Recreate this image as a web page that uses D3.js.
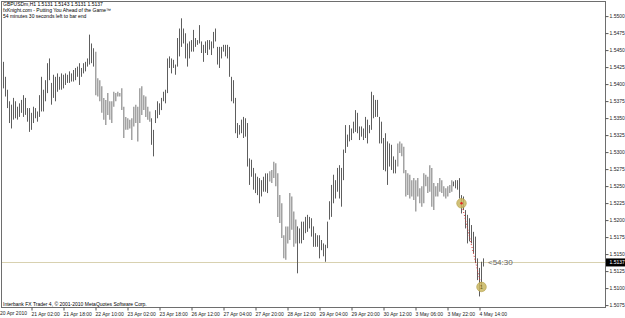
<!DOCTYPE html>
<html>
<head>
<meta charset="utf-8">
<script src="https://cdn.jsdelivr.net/npm/d3@7/dist/d3.min.js"></script>
<style>
  body { margin: 0; background: #fff; }
  svg { display: block; }
  text { font-family: "Liberation Sans", Arial, sans-serif; }
</style>
</head>
<body>
<div id="chart"></div>
<script>
var width = 625,
    height = 318;

// GBPUSD H1 bars, oldest first
var highs = [
  1.5432,1.5410,1.5391,1.5374,1.5369,1.5379,1.5374,1.5366,1.5371,1.5376,
  1.5383,1.5379,1.5364,1.5364,1.5357,1.5366,1.5364,1.5359,1.5383,1.5410,
  1.5391,1.5405,1.5430,1.5437,1.5401,1.5413,1.5410,1.5415,1.5410,1.5415,
  1.5413,1.5415,1.5413,1.5418,1.5415,1.5420,1.5423,1.5425,1.5430,1.5423,
  1.5430,1.5432,1.5437,1.5472,1.5459,1.5452,1.5447,1.5408,1.5405,1.5396,
  1.5379,1.5376,1.5386,1.5374,1.5374,1.5388,1.5386,1.5388,1.5386,1.5393,
  1.5366,1.5351,1.5349,1.5347,1.5349,1.5366,1.5369,1.5366,1.5393,1.5396,
  1.5383,1.5381,1.5366,1.5359,1.5349,1.5332,1.5361,1.5374,1.5371,1.5379,
  1.5388,1.5391,1.5437,1.5440,1.5437,1.5435,1.5428,1.5467,1.5481,1.5496,
  1.5481,1.5474,1.5459,1.5462,1.5464,1.5479,1.5467,1.5464,1.5486,1.5462,
  1.5457,1.5462,1.5464,1.5464,1.5462,1.5476,1.5481,1.5454,1.5454,1.5454,
  1.5457,1.5457,1.5457,1.5454,1.5410,1.5405,1.5379,1.5342,1.5339,1.5347,
  1.5351,
  1.5349,1.5342,1.5290,1.5288,1.5276,1.5268,1.5263,1.5261,1.5258,1.5263,
  1.5268,1.5268,1.5271,1.5273,1.5285,1.5283,1.5268,1.5236,1.5224,1.5177,
  1.5190,1.5190,1.5239,1.5234,1.5212,1.5200,1.5190,1.5187,1.5197,1.5197,
  1.5204,1.5207,1.5204,1.5202,1.5190,1.5180,1.5177,1.5177,1.5170,1.5165,
  1.5163,1.5197,1.5227,1.5251,1.5266,1.5258,1.5276,1.5280,1.5276,1.5303,
  1.5339,1.5325,1.5339,1.5334,1.5344,1.5361,1.5357,1.5337,1.5337,1.5334,
  1.5351,1.5347,1.5339,1.5388,1.5383,1.5376,1.5376,1.5351,1.5344,1.5320,
  1.5327,1.5315,1.5312,1.5310,1.5293,1.5288,1.5312,1.5315,1.5312,1.5307,
  1.5273,1.5268,1.5266,1.5258,1.5261,1.5258,1.5261,1.5246,1.5249,1.5268,
  1.5266,1.5263,1.5280,1.5276,1.5254,1.5249,1.5254,1.5261,1.5258,1.5249,
  1.5246,1.5249,1.5251,1.5258,1.5256,1.5258,1.5258,1.5261,1.5236,1.5234,
  1.5214,1.5207,1.5202,1.5192,1.5182,1.5175,1.5143,1.5129,1.5138,1.5143
];

var lows = [
  1.5393,1.5381,1.5364,1.5342,1.5334,1.5347,1.5349,1.5347,1.5351,1.5357,
  1.5351,1.5354,1.5344,1.5329,1.5332,1.5342,1.5349,1.5344,1.5351,1.5359,
  1.5359,1.5374,1.5386,1.5405,1.5369,1.5379,1.5374,1.5388,1.5391,1.5391,
  1.5393,1.5398,1.5401,1.5401,1.5403,1.5403,1.5405,1.5410,1.5398,1.5410,
  1.5415,1.5418,1.5425,1.5428,1.5430,1.5425,1.5383,1.5381,1.5374,1.5357,
  1.5347,1.5339,1.5354,1.5347,1.5342,1.5366,1.5374,1.5381,1.5381,1.5361,
  1.5320,1.5332,1.5332,1.5334,1.5317,1.5337,1.5342,1.5315,1.5342,1.5354,
  1.5361,1.5351,1.5347,1.5344,1.5310,1.5293,1.5342,1.5349,1.5354,1.5361,
  1.5374,1.5371,1.5386,1.5423,1.5415,1.5423,1.5413,1.5425,1.5440,1.5454,
  1.5459,1.5437,1.5425,1.5437,1.5447,1.5447,1.5454,1.5457,1.5459,1.5445,
  1.5432,1.5445,1.5442,1.5450,1.5442,1.5452,1.5462,1.5428,1.5423,1.5437,
  1.5447,1.5440,1.5437,1.5410,1.5374,1.5371,1.5327,1.5320,1.5325,1.5327,
  1.5320,
  1.5322,1.5278,1.5251,1.5263,1.5244,1.5239,1.5236,1.5224,1.5234,1.5241,
  1.5241,1.5239,1.5256,1.5254,1.5261,1.5249,1.5204,1.5195,1.5173,1.5143,
  1.5141,1.5165,1.5170,1.5185,1.5160,1.5165,1.5121,1.5165,1.5165,1.5170,
  1.5180,1.5182,1.5187,1.5175,1.5160,1.5160,1.5160,1.5143,1.5155,1.5146,
  1.5138,1.5158,1.5200,1.5204,1.5224,1.5231,1.5241,1.5231,1.5219,1.5258,
  1.5298,1.5307,1.5315,1.5317,1.5327,1.5329,1.5327,1.5317,1.5322,1.5317,
  1.5320,1.5312,1.5327,1.5332,1.5349,1.5351,1.5351,1.5312,1.5312,1.5273,
  1.5271,1.5251,1.5278,1.5273,1.5268,1.5268,1.5278,1.5298,1.5293,1.5268,
  1.5234,1.5236,1.5231,1.5234,1.5229,1.5212,1.5234,1.5224,1.5219,1.5224,
  1.5249,1.5239,1.5241,1.5219,1.5214,1.5234,1.5234,1.5241,1.5239,1.5234,
  1.5231,1.5234,1.5239,1.5241,1.5249,1.5246,1.5244,1.5231,1.5209,1.5214,
  1.5187,1.5165,1.5168,1.5165,1.5151,1.5136,1.5111,1.5087,1.5101,1.5131
];

// bar ranges painted silver by the indicator
var quietZones = [[46, 73], [133, 146], [197, 224]];

var priceTicks = [1.5500,1.5475,1.5450,1.5425,1.5400,1.5375,1.5350,1.5325,1.5300,
                  1.5275,1.5250,1.5225,1.5200,1.5175,1.5150,1.5125,1.5100,1.5075];

var timeBars = [14,30,46,62,78,94,110,126,142,158,174,190,206,222,238];
var timeLabels = ["21 Apr 02:00","21 Apr 18:00","22 Apr 10:00","23 Apr 02:00","23 Apr 18:00",
                  "26 Apr 12:00","27 Apr 04:00","27 Apr 20:00","28 Apr 12:00","29 Apr 04:00",
                  "29 Apr 20:00","30 Apr 12:00","3 May 06:00","3 May 22:00","4 May 14:00"];
var firstLabel = "20 Apr 2010";

var lastPrice = 1.5137;
var signals = [{bar: 229, price: 1.5224, label: ""}, {bar: 239, price: 1.5101, label: "1"}];

var headerLines = ["GBPUSDm,H1  1.5131 1.5143 1.5131 1.5137",
                   "fxKnight.com - Putting You Ahead of the Game\u2122",
                   "54 minutes 30 seconds left to bar end"];
var footer = "Interbank FX Trader 4, \u00a9 2001-2010 MetaQuotes Software Corp.";
var countdown = "<54:30";

var frame = {left: 1.5, top: 1.5, right: 605.5, bottom: 307.5};

var x = d3.scaleLinear()
    .domain([0, highs.length - 1])
    .range([3, 3 + 2 * (highs.length - 1)]);

var y = d3.scaleLinear()
    .domain([1.5520, 1.5070])
    .range([2, 308]);

var svg = d3.select("#chart").append("svg")
    .attr("width", width)
    .attr("height", height);

svg.append("rect")
    .attr("width", width)
    .attr("height", height)
    .attr("fill", "#fff");

function isQuiet(i) {
  return quietZones.some(function(z) { return i >= z[0] && i <= z[1]; });
}

// current price line
svg.append("line")
    .attr("x1", frame.left).attr("x2", frame.right)
    .attr("y1", Math.round(y(lastPrice)) + 0.5).attr("y2", Math.round(y(lastPrice)) + 0.5)
    .attr("stroke", "#d8d1b0");

var bars = d3.range(highs.length);

svg.append("g").attr("class", "bars")
    .selectAll("line").data(bars)
  .enter().append("line")
    .attr("x1", function(i) { return x(i) + (isQuiet(i) ? 0.75 : 0.5); })
    .attr("x2", function(i) { return x(i) + (isQuiet(i) ? 0.75 : 0.5); })
    .attr("y1", function(i) { return y(highs[i]); })
    .attr("y2", function(i) { return y(lows[i]); })
    .attr("stroke", function(i) { return isQuiet(i) ? "#a3a3a3" : "#5e5e5e"; })
    .attr("stroke-width", function(i) { return isQuiet(i) ? 1.5 : 1; });

// zigzag between signals
svg.append("line")
    .attr("x1", x(signals[0].bar) + 0.5).attr("y1", y(signals[0].price))
    .attr("x2", x(signals[1].bar) + 0.5).attr("y2", y(signals[1].price))
    .attr("stroke", "#e03030")
    .attr("stroke-width", 1)
    .attr("stroke-dasharray", "1,2");

var sig = svg.append("g").attr("class", "signals")
    .selectAll("g").data(signals)
  .enter().append("g")
    .attr("transform", function(d) { return "translate(" + (x(d.bar) + 0.5) + "," + y(d.price) + ")"; });

sig.append("circle")
    .attr("r", 4.8)
    .attr("fill", "#c9b660")
    .attr("fill-opacity", 0.85)
    .attr("stroke", "#b3a04a")
    .attr("stroke-width", 0.6);

sig.filter(function(d) { return d.label === ""; }).append("circle")
    .attr("r", 1.2)
    .attr("fill", "#e02020");

sig.append("text")
    .attr("text-anchor", "middle")
    .attr("dy", "0.35em")
    .attr("font-size", 5)
    .attr("fill", "#6b5a10")
    .text(function(d) { return d.label; });

// frame
svg.append("rect")
    .attr("x", frame.left).attr("y", frame.top)
    .attr("width", frame.right - frame.left)
    .attr("height", frame.bottom - frame.top)
    .attr("fill", "none")
    .attr("stroke", "#6e6e6e");

// price axis
svg.append("g")
    .attr("transform", "translate(" + frame.right + ",0)")
    .call(d3.axisRight(y).tickValues(priceTicks).tickSize(3).tickPadding(1)
          .tickFormat(d3.format(".4f")))
    .call(function(g) { g.select(".domain").remove(); })
    .call(function(g) {
      g.selectAll("line").attr("stroke", "#555").attr("transform", "translate(0,0.5)");
      g.selectAll("text").attr("font-size", 5).attr("fill", "#222")
          .attr("font-family", "'Liberation Sans', Arial, sans-serif");
    });

// time axis
svg.append("g")
    .attr("transform", "translate(0," + frame.bottom + ")")
    .call(d3.axisBottom(x).tickValues(timeBars).tickSize(3).tickPadding(2)
          .tickFormat(function(d, i) { return timeLabels[i]; }))
    .call(function(g) { g.select(".domain").remove(); })
    .call(function(g) {
      g.selectAll("line").attr("stroke", "#555").attr("transform", "translate(0.5,0)");
      g.selectAll("text").attr("font-size", 5).attr("fill", "#222")
          .attr("text-anchor", "start")
          .attr("font-family", "'Liberation Sans', Arial, sans-serif");
    });

svg.append("text")
    .attr("x", 0).attr("y", 315)
    .attr("font-size", 5).attr("fill", "#222")
    .text(firstLabel);

// last price tag
var ly = y(lastPrice);
svg.append("rect")
    .attr("x", frame.right + 0.5).attr("y", ly - 4)
    .attr("width", width - frame.right).attr("height", 8)
    .attr("fill", "#000");
svg.append("text")
    .attr("x", frame.right + 4).attr("y", ly)
    .attr("dy", "0.35em")
    .attr("font-size", 5).attr("fill", "#fff")
    .text(d3.format(".4f")(lastPrice));

// bar countdown
svg.append("text")
    .attr("x", x(highs.length - 1) + 5).attr("y", ly)
    .attr("dy", "0.35em")
    .attr("font-size", 8).attr("fill", "#666")
    .text(countdown);

// header and footer
svg.append("g").selectAll("text").data(headerLines)
  .enter().append("text")
    .attr("x", 3)
    .attr("y", function(d, i) { return 6 + i * 6; })
    .attr("font-size", 5)
    .attr("fill", "#000")
    .text(function(d) { return d; });

svg.append("text")
    .attr("x", 3).attr("y", 306)
    .attr("font-size", 5).attr("fill", "#000")
    .text(footer);
</script>
</body>
</html>
